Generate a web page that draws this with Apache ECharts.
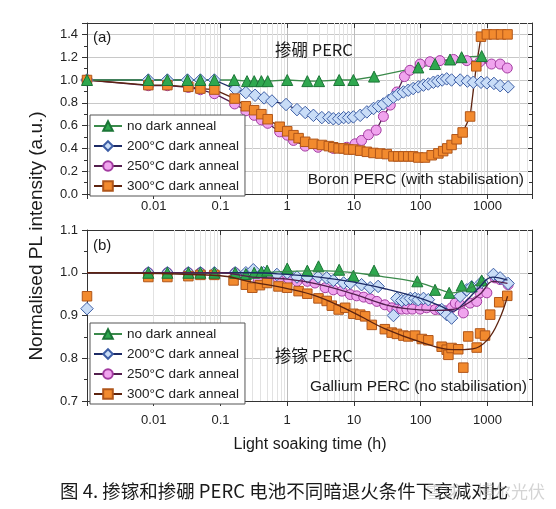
<!DOCTYPE html>
<html><head><meta charset="utf-8">
<script src="https://cdn.jsdelivr.net/npm/echarts@6/dist/echarts.min.js"></script>
<style>html,body{margin:0;padding:0;background:#fff}#c{width:556px;height:509px}</style>
</head><body><div id="c"></div>
<script>
// ---------- data ----------
const seriesNames = ['no dark anneal', '200°C dark anneal', '250°C dark anneal', '300°C dark anneal'];
const xTickLabels = ['0.01', '0.1', '1', '10', '100', '1000'];   // decades 1e-2 .. 1e3
const topYTicks = ['0.0', '0.2', '0.4', '0.6', '0.8', '1.0', '1.2', '1.4'];
const botYTicks = ['0.7', '0.8', '0.9', '1.0', '1.1'];

// (a) Boron PERC  [light soaking time (h), normalised PL]
const boronNone = [[0.001,1.0],[0.0083,1.0],[0.016,1.0],[0.032,1.0],[0.05,1.0],[0.081,1.0],[0.16,1.0],[0.25,0.99],[0.32,0.99],[0.41,0.99],[0.51,0.99],[1.0,1.0],[2.0,0.99],[3.0,0.99],[6.0,1.0],[9.8,1.0],[20,1.03],[92,1.11],[164,1.14],[275,1.18],[410,1.2],[820,1.21]];
const boron200 = [[0.001,1.0],[0.0083,1.0],[0.016,1.0],[0.032,1.0],[0.05,1.0],[0.081,1.0],[0.167,0.92],[0.24,0.89],[0.33,0.866],[0.45,0.843],[0.59,0.816],[0.96,0.785],[1.4,0.74],[1.86,0.715],[2.47,0.69],[3.3,0.67],[4.2,0.67],[4.9,0.66],[5.9,0.66],[7.0,0.67],[8.3,0.67],[9.8,0.676],[12.4,0.69],[15.6,0.72],[19.6,0.75],[23.3,0.77],[27.6,0.79],[32.8,0.82],[39,0.85],[46,0.875],[55,0.895],[65,0.91],[77,0.925],[92,0.94],[110,0.955],[130,0.965],[155,0.98],[180,0.99],[210,1.0],[245,1.01],[290,1.0],[390,1.0],[500,0.99],[615,0.98],[800,0.98],[980,0.975],[1250,0.97],[1550,0.95],[2040,0.94]];
const boron250 = [[0.001,1.0],[0.0083,0.95],[0.016,0.95],[0.033,0.935],[0.05,0.915],[0.081,0.88],[0.163,0.79],[0.24,0.73],[0.32,0.69],[0.41,0.65],[0.51,0.62],[0.77,0.545],[1.0,0.516],[1.24,0.47],[1.86,0.42],[2.9,0.41],[4.9,0.40],[7.8,0.41],[10.4,0.44],[13,0.47],[16.5,0.52],[21.5,0.56],[27.6,0.68],[35,0.78],[44,0.895],[57,1.03],[69,1.085],[98,1.14],[138,1.16],[194,1.17],[310,1.18],[490,1.17],[770,1.16],[1150,1.14],[1550,1.14],[1980,1.105]];
const boron300 = [[0.001,1.0],[0.0083,0.955],[0.016,0.955],[0.033,0.94],[0.05,0.925],[0.081,0.916],[0.163,0.837],[0.24,0.77],[0.32,0.735],[0.41,0.70],[0.51,0.656],[0.77,0.59],[1.0,0.55],[1.24,0.516],[1.48,0.49],[1.86,0.458],[2.47,0.44],[3.3,0.43],[4.2,0.42],[4.9,0.41],[5.9,0.40],[7.0,0.40],[8.3,0.39],[9.8,0.39],[12.4,0.38],[15.6,0.37],[19.6,0.36],[24.7,0.355],[31,0.35],[39,0.33],[46,0.33],[55,0.33],[65,0.33],[77,0.33],[92,0.32],[116,0.32],[146,0.34],[184,0.356],[217,0.376],[250,0.40],[290,0.43],[345,0.48],[425,0.54],[550,0.68],[680,1.12],[800,1.38],[980,1.40],[1250,1.40],[1600,1.40],[2000,1.40]];

// (b) Gallium PERC measured points
const galliumNone = [[0.0083,1.0],[0.016,1.0],[0.033,1.0],[0.05,1.0],[0.081,1.0],[0.166,1.0],[0.24,0.997],[0.32,1.0],[0.41,1.002],[0.5,1.005],[1.0,1.01],[2.0,1.005],[2.94,1.015],[6.0,1.007],[9.8,0.993],[20,1.005],[89,0.98],[164,0.96],[267,0.953],[410,0.97],[580,0.968],[820,0.982]];
const gallium200 = [[0.001,0.916],[0.0083,1.0],[0.016,1.0],[0.033,1.0],[0.05,1.0],[0.081,1.0],[0.166,1.0],[0.24,1.0],[0.31,1.007],[0.44,1.0],[0.7,0.996],[1.0,1.0],[1.4,0.99],[2.0,0.99],[2.9,0.99],[3.9,0.988],[4.9,0.982],[7.0,0.976],[8.8,0.976],[13,0.972],[17.5,0.965],[23,0.968],[39,0.90],[44,0.94],[52,0.935],[60,0.937],[70,0.94],[82,0.94],[92,0.937],[110,0.94],[130,0.937],[206,0.914],[245,0.902],[290,0.894],[390,0.945],[490,0.96],[580,0.967],[820,0.978],[1230,0.996],[1550,0.988],[2040,0.975]];
const gallium250 = [[0.0083,1.0],[0.016,1.0],[0.033,1.0],[0.05,1.0],[0.081,0.996],[0.166,1.0],[0.24,0.99],[0.37,0.984],[0.5,0.988],[0.74,0.984],[1.05,0.986],[1.4,0.98],[2.0,0.98],[2.6,0.976],[3.7,0.965],[4.9,0.96],[6.6,0.957],[8.8,0.949],[11,0.946],[14,0.943],[17.5,0.939],[22,0.933],[29,0.925],[37,0.918],[44,0.915],[52,0.915],[62,0.915],[75,0.915],[98,0.915],[123,0.918],[165,0.914],[195,0.914],[230,0.911],[290,0.918],[330,0.929],[390,0.925],[435,0.906],[550,0.929],[690,0.933],[775,0.953],[980,0.953],[1300,0.988],[1550,0.984],[2040,0.972]];
const gallium300 = [[0.001,0.945],[0.0083,0.99],[0.016,0.99],[0.033,0.992],[0.05,0.995],[0.081,0.995],[0.157,0.982],[0.24,0.972],[0.3,0.965],[0.39,0.971],[0.5,0.976],[0.74,0.968],[1.0,0.965],[1.48,0.957],[2.0,0.951],[2.94,0.94],[3.9,0.934],[4.65,0.923],[5.9,0.914],[7.4,0.918],[9.8,0.904],[12.4,0.902],[14.7,0.898],[18.5,0.878],[29,0.868],[36.7,0.86],[44,0.857],[55,0.853],[65,0.851],[82,0.853],[104,0.845],[130,0.842],[206,0.827],[245,0.82],[260,0.808],[290,0.824],[365,0.821],[435,0.778],[515,0.851],[690,0.825],[775,0.858],[920,0.853],[1100,0.902],[1500,0.931],[1980,0.946]];
// (b) fitted curves
const galliumNoneFit = [[0.001,1.0],[0.3,1.0],[1,1.003],[3,1.005],[10,1.0],[30,0.99],[100,0.976],[200,0.96],[300,0.953],[500,0.962],[900,0.982]];
const gallium200Fit = [[0.001,1.0],[0.3,1.0],[1,0.996],[3,0.99],[10,0.978],[30,0.962],[100,0.94],[200,0.922],[300,0.91],[450,0.93],[700,0.96],[1200,0.99],[2000,0.983]];
const gallium250Fit = [[0.001,1.0],[0.1,1.0],[0.3,0.99],[1,0.985],[3,0.973],[10,0.95],[30,0.925],[60,0.916],[150,0.912],[300,0.914],[500,0.928],[800,0.952],[1200,0.98],[2000,0.975]];
const gallium300Fit = [[0.001,1.0],[0.1,0.993],[0.3,0.978],[1,0.963],[3,0.943],[10,0.906],[30,0.868],[100,0.838],[300,0.82],[600,0.822],[1000,0.843],[1500,0.89],[2000,0.945]];

// ---------- styles ----------
const LAT = 'Liberation Sans, Arial, sans-serif';
const CJK = '"Noto Sans CJK SC", sans-serif';
const sty = [
  {symbol:'triangle', size:11, fill:'#2fa84f', border:'#1b7536', line:'#3b8a4b'},
  {symbol:'diamond',  size:12.5, fill:'#c9ddf7', border:'#3d5ea6', line:'#1d2b66'},
  {symbol:'circle',   size:10, fill:'#f0a4ee', border:'#a33ba1', line:'#54204f'},
  {symbol:'rect',     size:9.5, fill:'#f28a2e', border:'#b0561a', line:'#5e2410'}
];

const minorX = [];
for (let e = -3; e <= 3; e++) for (let m = 2; m <= 9; m++) { const v = m * Math.pow(10, e); if (v < 4650) minorX.push(+v.toPrecision(3)); }

function fmtX(v) {
  const l = Math.log10(v), e = Math.round(l);
  if (Math.abs(l - e) > 1e-6) return '';
  const i = e + 2;
  return (i >= 0 && i < xTickLabels.length) ? xTickLabels[i] : '';
}
function fmtTop(v) { const i = Math.round(v * 5); return Math.abs(v * 5 - i) < 1e-6 && i < topYTicks.length ? topYTicks[i] : ''; }
function fmtBot(v) { const i = Math.round(v * 10) - 7; return Math.abs(v * 10 - 7 - i) < 1e-6 && i >= 0 && i < botYTicks.length ? botYTicks[i] : ''; }

function xAx(g, pos) {
  return {type:'log', logBase:10, gridIndex:g, position:pos, min:0.001, max:4650,
    axisLine:{show:true, onZero:false, lineStyle:{color:'#333', width:1}},
    axisTick:{show:true, inside: pos === 'top', length:5, lineStyle:{color:'#333'}},
    axisLabel:{show: pos === 'bottom', margin: g === 0 ? 6 : 13, fontSize:13, fontFamily:LAT, color:'#222', formatter: fmtX},
    splitLine:{show: pos === 'bottom', lineStyle:{color:'#bdbdbd', width:1}}};
}
function yAx(g, pos) {
  const top = g === 0;
  return {type:'value', gridIndex:g, position:pos, min: top ? 0 : 0.7, max: top ? 1.5 : 1.1, interval: top ? 0.2 : 0.1,
    axisLine:{show:true, onZero:false, lineStyle:{color:'#333', width:1}},
    axisTick:{show:true, inside: pos === 'right', length:5, lineStyle:{color:'#333'}},
    minorTick:{show:true, splitNumber:2, length:3, lineStyle:{color:'#333'}},
    axisLabel:{show: pos === 'left', margin:9, fontSize:13, fontFamily:LAT, color:'#222', formatter: top ? fmtTop : fmtBot},
    splitLine:{show: pos === 'left', lineStyle:{color:'#c8c8c8', width:1}}};
}

const gridLines = g => ({type:'line', name:'grid' + g, xAxisIndex: g * 2, yAxisIndex: g * 2, data: [], silent: true, z:1,
  markLine:{silent:true, z:1, symbol:['none','none'], label:{show:false}, animation:false,
    lineStyle:{color:'#e2e2e2', width:1, type:'solid'}, emphasis:{disabled:true},
    data: minorX.map(v => ({xAxis: v}))}});

const topData = [boronNone, boron200, boron250, boron300];
const botData = [galliumNone, gallium200, gallium250, gallium300];
const botFit = [galliumNoneFit, gallium200Fit, gallium250Fit, gallium300Fit];
const drawOrder = [2, 1, 3, 0];

const series = [gridLines(0), gridLines(1)];
drawOrder.forEach(i => {
  const s = sty[i];
  series.push({type:'line', name: seriesNames[i], xAxisIndex:0, yAxisIndex:0, data: topData[i],
    symbol: s.symbol, symbolSize: s.size, showSymbol:true, showAllSymbol:true,
    itemStyle:{color: s.fill, borderColor: s.border, borderWidth:1},
    lineStyle:{color: s.line, width:1.3}, emphasis:{disabled:true}});
});
[0, 1, 2, 3].forEach(i => {
  const s = sty[i];
  series.push({type:'line', name: seriesNames[i], xAxisIndex:2, yAxisIndex:2, data: botFit[i], smooth:0.4,
    symbol: s.symbol, showSymbol:false, itemStyle:{color: s.fill, borderColor: s.border},
    lineStyle:{color: s.line, width:1.3}, emphasis:{disabled:true}});
});
drawOrder.forEach(i => {
  const s = sty[i];
  series.push({type:'scatter', name: seriesNames[i], xAxisIndex:2, yAxisIndex:2, data: botData[i],
    symbol: s.symbol, symbolSize: s.size, itemStyle:{color: s.fill, borderColor: s.border, borderWidth:1, opacity:1},
    emphasis:{disabled:true}});
});

const legendBase = {orient:'vertical', left:90, data: seriesNames, itemWidth:28, itemHeight:12, itemGap:6, z:10,
  padding:[4, 6, 3, 3], backgroundColor:'#fff', borderColor:'#555', borderWidth:1, borderRadius:0,
  textStyle:{fontSize:13.5, fontFamily:LAT, color:'#222'}, selectedMode:false};

const txt = (text, x, y, size, align, font) => ({type:'text', z:100, silent:true,
  style:{text, x, y, font: size + 'px ' + (font || LAT), fill:'#1a1a1a', align: align || 'left', verticalAlign:'middle'}});

const yTitle = {type:'text', z:100, silent:true, x:37, y:236, rotation: Math.PI / 2,
  style:{text:'Normalised PL intensity (a.u.)', x:0, y:0, font:'19px ' + LAT, fill:'#1a1a1a', align:'center', verticalAlign:'middle'}};
const watermark = txt('雪球：博尔光伏', 545, 492, 17, 'right', CJK);
watermark.style.fill = 'rgba(160,160,160,0.45)';

const option = {
  animation:false,
  backgroundColor:'#fff',
  grid:[{left:87, top:23, width:445, height:171}, {left:87, top:230, width:445, height:171}],
  xAxis:[xAx(0,'bottom'), xAx(0,'top'), xAx(1,'bottom'), xAx(1,'top')],
  yAxis:[yAx(0,'left'), yAx(0,'right'), yAx(1,'left'), yAx(1,'right')],
  legend:[Object.assign({}, legendBase, {top:115}), Object.assign({}, legendBase, {top:323})],
  series,
  graphic:[
    txt('(a)', 93, 38, 15),
    txt('掺硼 PERC', 275, 50, 16.5, 'left', CJK),
    txt('Boron PERC (with stabilisation)', 524, 180, 15.5, 'right'),
    txt('(b)', 93, 246, 15),
    txt('掺镓 PERC', 275, 356, 16.5, 'left', CJK),
    txt('Gallium PERC (no stabilisation)', 527, 387, 15.5, 'right'),
    txt('Light soaking time (h)', 310, 445, 16, 'center'),
    yTitle,
    txt('图 4. 掺镓和掺硼 PERC 电池不同暗退火条件下衰减对比', 60, 491, 18.5, 'left', CJK),
    watermark
  ]
};
const chart = echarts.init(document.getElementById('c'), null, {renderer:'canvas'});
chart.setOption(option);
</script></body></html>
